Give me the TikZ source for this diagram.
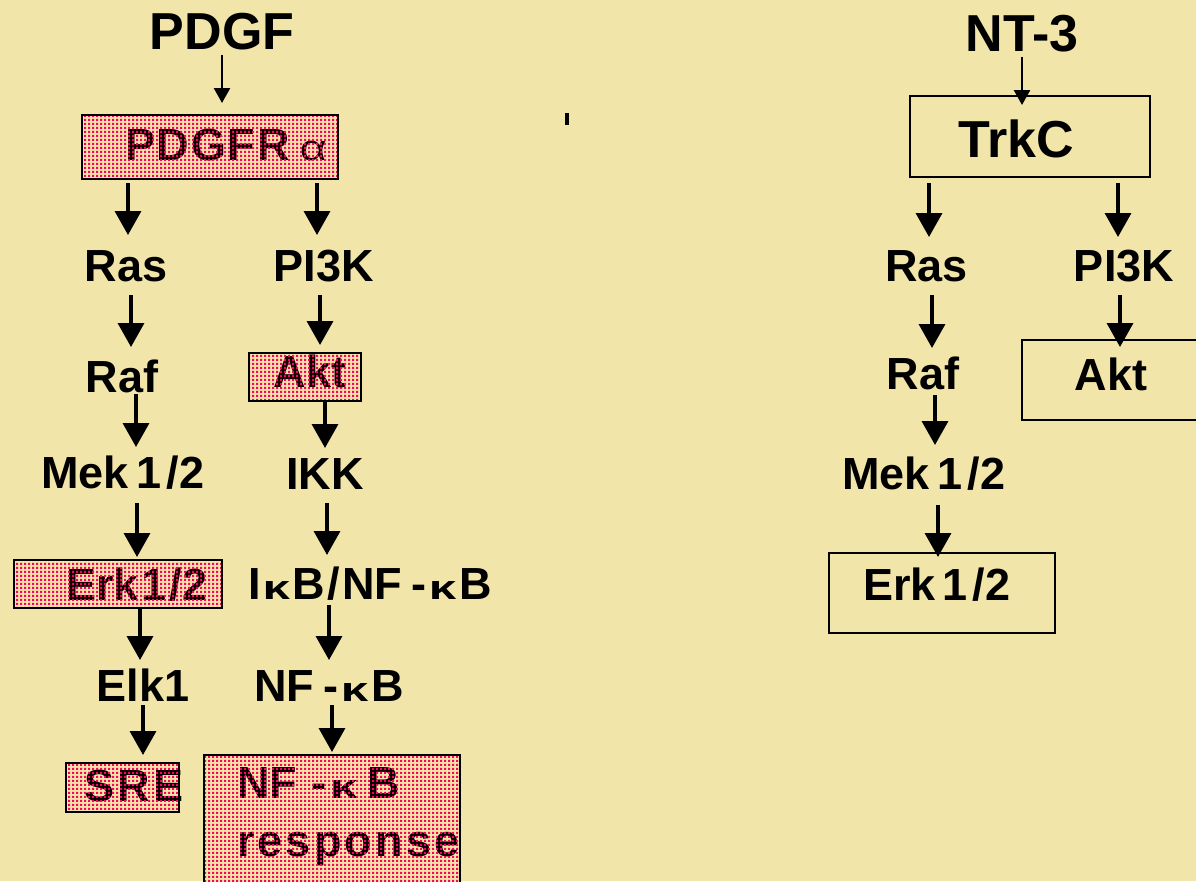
\documentclass[tikz,border=0pt]{standalone}
\usepackage{fontspec}
\setmainfont{Liberation Sans}
\usetikzlibrary{arrows.meta,patterns.meta}

\definecolor{paper}{RGB}{241,229,169}
\definecolor{dotpink}{RGB}{255,0,90}

% grid of small square dots used to shade the highlighted boxes
\pgfdeclarepattern{
  name=pinkdots,
  type=uncolored,
  bottom left={\pgfpoint{0pt}{0pt}},
  top right={\pgfpoint{4pt}{4pt}},
  tile size={\pgfpoint{4pt}{4pt}},
  code={\pgfpathrectangle{\pgfpointorigin}{\pgfpoint{2.6pt}{2.6pt}}\pgfusepath{fill}}
}

% wide Greek letters in the labels
\newcommand\kap{\scalebox{1.45}[1]{\fontsize{34}{34}\selectfont κ}}
\newcommand\alf{{\mdseries\scalebox{1.3}[1]{\fontsize{36}{36}\selectfont α}}}
% shade a box node with the dot pattern and redraw its frame
\newcommand\dotcover[1]{%
  \fill[pattern=pinkdots, pattern color=dotpink] (#1.south west) rectangle (#1.north east);
  \draw[boxline] (#1.south west) rectangle (#1.north east);}

\begin{document}
\begin{tikzpicture}[x=1pt,y=-1pt,
  lbl/.style={inner sep=0pt, outer sep=0pt, text height=33pt, text depth=0pt,
              font=\fontsize{45}{50}\selectfont\bfseries},
  title/.style={inner sep=0pt, outer sep=0pt, text height=37pt, text depth=0pt,
              font=\fontsize{52}{56}\selectfont\bfseries},
  boxline/.style={line width=2.2pt, draw=black},
  frame/.style={boxline, fill=paper, inner sep=0pt, outer sep=0pt},
  arr/.style={line width=3.5pt, -{Triangle[width=26pt,length=24pt]}},
  arrs/.style={line width=2.5pt, -{Triangle[width=16pt,length=15pt]}},
]
\fill[paper] (0,0) rectangle (1196,881);
\useasboundingbox (0,0) rectangle (1196,881);

% ---------------- PDGF pathway ----------------
\node[title] (pdgf) at (222,31) {PDGF};

\node[frame, minimum width=256pt, minimum height=64pt] (pdgfrBox) at (210,147) {};
\node[lbl] (pdgfr) at (226,144) {\addfontfeature{LetterSpace=4}PDGFR\hspace{10pt}\alf};
\dotcover{pdgfrBox}

\node[lbl] (ras)  at (126,265) {Ras};
\node[lbl] (pi3k) at (324,265) {PI3K};
\node[lbl] (raf)  at (122,376) {Raf};

\node[frame, minimum width=112pt, minimum height=48pt] (aktBox) at (305,377) {};
\node[lbl] (akt) at (310,371) {Akt};
\dotcover{aktBox}

\node[lbl] (mek) at (123,472) {Mek\kern8pt1\kern5pt/2};
\node[lbl] (ikk) at (325,473) {IKK};

\node[frame, minimum width=208pt, minimum height=48pt] (erkBox) at (118,584) {};
\node[lbl] (erk) at (137,583.5) {Erk\kern3pt1\kern3pt/2};
\dotcover{erkBox}

\node[lbl] (ikb)  at (370,583) {I\kern2pt\kap\kern2pt B\kern3pt/\kern2pt NF\kern9pt-\kern3pt\kap\kern3pt B};
\node[lbl] (elk)  at (143,685) {Elk1};
\node[lbl] (nfkb) at (329,685) {NF\kern9pt-\kern3pt\kap\kern3pt B};

\node[frame, minimum width=113pt, minimum height=49pt] (sreBox) at (122.5,787.5) {};
\node[lbl] (sre) at (134,785) {\addfontfeature{LetterSpace=8}SRE};
\dotcover{sreBox}

\node[frame, minimum width=256pt, minimum height=135pt] (respBox) at (332,822.5) {};
\node[inner sep=0pt, anchor=north west, align=left,
      font=\fontsize{45}{58}\selectfont\bfseries] (resp) at (237,767)
  {NF\kern14pt-\kern4pt\kap\kern10pt B\\\addfontfeature{LetterSpace=7}response};
\dotcover{respBox}

\draw[arrs, shorten <=5.5pt] (pdgf.south) -- ([xshift=12pt,yshift=12pt]pdgfrBox.north);
\draw[arr, shorten <=4pt, shorten >=13.5pt] ([xshift=-82pt]pdgfrBox.south) -- ([xshift=2pt]ras.north);
\draw[arr, shorten <=4pt, shorten >=13.5pt] ([xshift=107pt]pdgfrBox.south) -- ([xshift=-7pt]pi3k.north);
\draw[arr, shorten <=13.5pt, shorten >=12.5pt] ([xshift=5pt]ras.south) -- ([xshift=9pt]raf.north);
\draw[arr, shorten <=1.5pt, shorten >=8.5pt] ([xshift=14pt]raf.south) -- ([xshift=13pt]mek.north);
\draw[arr, shorten <=13.5pt, shorten >=8pt] ([xshift=-4pt]pi3k.south) -- ([xshift=15pt]aktBox.north);
\draw[arr, shorten >=8.5pt] ([xshift=20pt]aktBox.south) -- (ikk.north);
\draw[arr, shorten <=14.5pt, shorten >=3pt] ([xshift=14pt]mek.south) -- ([xshift=19pt]erkBox.north);
\draw[arr, shorten >=8.5pt] ([xshift=22pt]erkBox.south) -- ([xshift=-3pt]elk.north);
\draw[arr, shorten <=13.5pt, shorten >=11.5pt] ([xshift=2pt]ikk.south) -- ([xshift=-43pt]ikb.north);
\draw[arr, shorten <=5.5pt, shorten >=8.5pt] ([xshift=-41pt]ikb.south) -- (nfkb.north);
\draw[arr, shorten <=3.5pt, shorten >=8pt] (elk.south) -- ([xshift=20.5pt]sreBox.north);
\draw[arr, shorten <=3.5pt, shorten >=3pt] ([xshift=3pt]nfkb.south) -- (respBox.north);

% small stray mark near the top centre
\fill (565,113) rectangle (569,125);

% ---------------- NT-3 pathway ----------------
\node[title] (nt3) at (1022,33) {NT-3};

\node[frame, minimum width=240pt, minimum height=81pt] (trkcBox) at (1030,136.5) {};
\node[title] (trkc) at (1016,139) {TrkC};

\node[lbl] (ras2)  at (926.5,265) {Ras};
\node[lbl] (pi3k2) at (1124,265) {PI3K};
\node[lbl] (raf2)  at (923,373) {Raf};

\node[frame, minimum width=178pt, minimum height=80pt] (akt2Box) at (1111,380) {};
\node[lbl] (akt2) at (1111,373.5) {Akt};

\node[lbl] (mek2) at (924,473) {Mek\kern8pt1\kern5pt/2};

\node[frame, minimum width=226pt, minimum height=80pt] (erk2Box) at (942,593) {};
\node[lbl] (erk2) at (937,583.5) {Erk\kern7pt1\kern5pt/2};

\draw[arrs, shorten <=5.5pt] (nt3.south) -- ([xshift=-8pt,yshift=-9pt]trkcBox.north);
\draw[arr, shorten <=6pt, shorten >=11.5pt] ([xshift=-101pt]trkcBox.south) -- ([xshift=2.5pt]ras2.north);
\draw[arr, shorten <=6pt, shorten >=11.5pt] ([xshift=88pt]trkcBox.south) -- ([xshift=-6pt]pi3k2.north);
\draw[arr, shorten <=13.5pt, shorten >=8.5pt] ([xshift=5.5pt]ras2.south) -- ([xshift=9pt]raf2.north);
\draw[arr, shorten <=13.5pt] ([xshift=-4pt]pi3k2.south) -- ([xshift=9pt,yshift=-7pt]akt2Box.north);
\draw[arr, shorten <=5.5pt, shorten >=11.5pt] ([xshift=12pt]raf2.south) -- ([xshift=11pt]mek2.north);
\draw[arr, shorten <=15.5pt] ([xshift=14pt]mek2.south) -- ([xshift=-4pt,yshift=-4pt]erk2Box.north);
\end{tikzpicture}
\end{document}
